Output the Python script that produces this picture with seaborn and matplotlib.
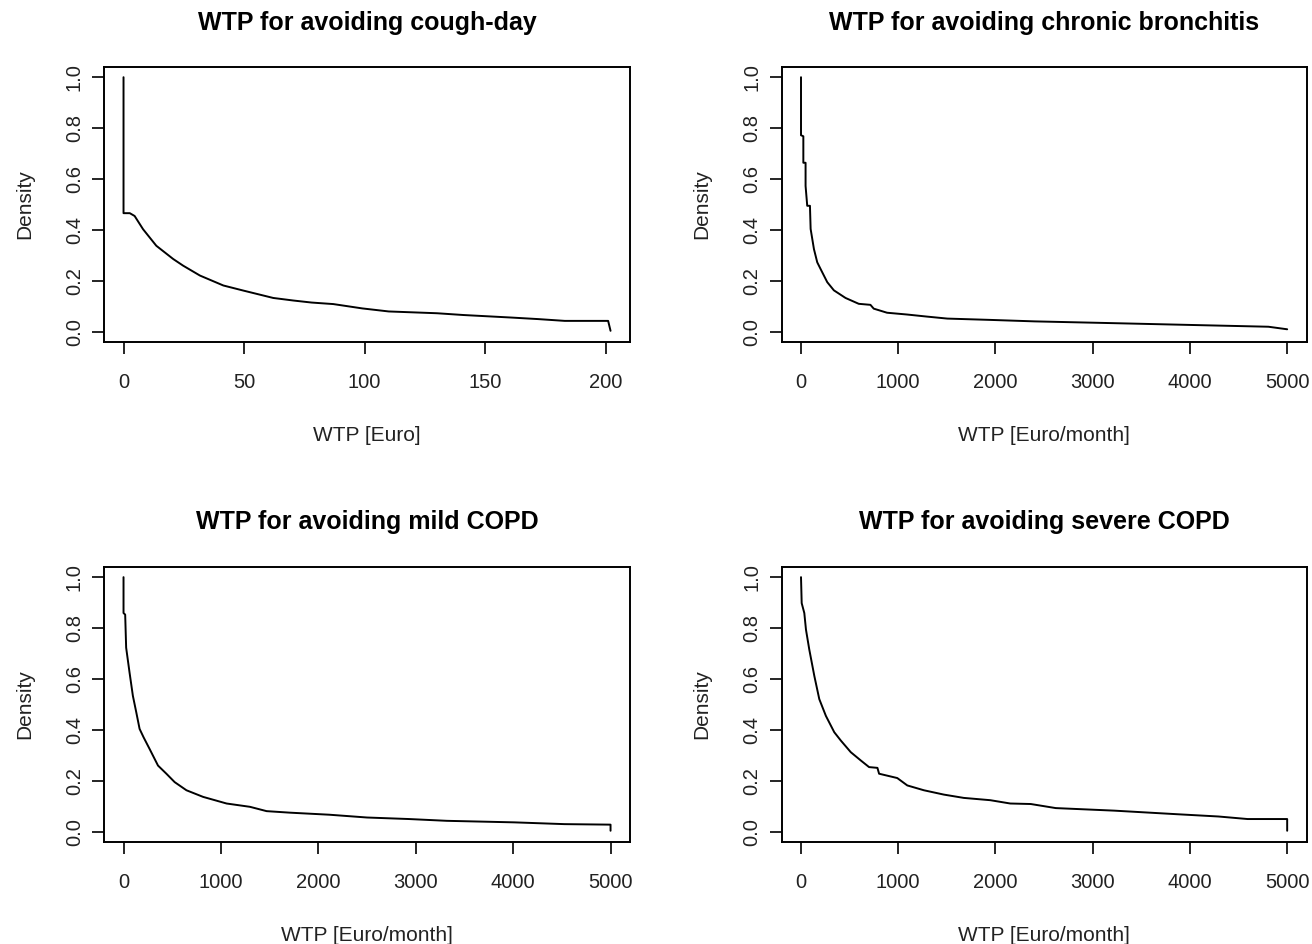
import matplotlib
matplotlib.use("Agg")
import matplotlib.pyplot as plt
import seaborn as sns
import pandas as pd

# Survival-type curves of willingness to pay (share of respondents willing to pay at least x)
cough_wtp = [0, 0, 2.6, 4.6, 8.1, 13.6, 20.6, 24.7, 31.7, 41.4, 49.7, 62.1, 70.4,
             78, 87, 99, 110, 130, 141, 161, 172, 183, 201, 202]
cough_share = [1.0, 0.466, 0.466, 0.455, 0.403, 0.338, 0.286, 0.26, 0.221, 0.182, 0.162,
               0.133, 0.123, 0.115, 0.109, 0.092, 0.08, 0.073, 0.066, 0.056, 0.05,
               0.043, 0.043, 0.004]

bronchitis_wtp = [0, 0, 24, 24, 47, 47, 64, 92, 99, 133, 167, 201, 270, 338, 458, 594,
                  714, 748, 885, 1090, 1291, 1505, 1934, 2406, 3220, 4121, 4807, 5000]
bronchitis_share = [1.0, 0.772, 0.768, 0.664, 0.664, 0.573, 0.495, 0.495, 0.404, 0.325,
                    0.273, 0.247, 0.195, 0.163, 0.133, 0.11, 0.106, 0.091, 0.075, 0.068,
                    0.06, 0.052, 0.047, 0.041, 0.034, 0.026, 0.02, 0.01]

mild_wtp = [0, 0, 17, 27, 62, 96, 131, 165, 206, 268, 354, 440, 525, 646, 817, 1058,
            1298, 1469, 1710, 2112, 2500, 2931, 3319, 4009, 4526, 5000, 5000]
mild_share = [1.0, 0.859, 0.853, 0.723, 0.625, 0.534, 0.469, 0.404, 0.371, 0.325, 0.26,
              0.228, 0.195, 0.163, 0.137, 0.111, 0.098, 0.081, 0.075, 0.067, 0.056,
              0.05, 0.043, 0.037, 0.03, 0.028, 0.004]

severe_wtp = [0, 7, 34, 51, 85, 137, 188, 256, 342, 410, 512, 615, 700, 786, 803, 990,
              1093, 1264, 1469, 1674, 1947, 2152, 2363, 2620, 3220, 3864, 4293, 4593,
              5000, 5000]
severe_share = [1.0, 0.898, 0.859, 0.794, 0.716, 0.612, 0.521, 0.455, 0.391, 0.358,
                0.3125, 0.28, 0.254, 0.251, 0.228, 0.211, 0.182, 0.163, 0.146, 0.133,
                0.124, 0.111, 0.109, 0.093, 0.083, 0.069, 0.06, 0.05, 0.05, 0.004]

titles = ["WTP for avoiding cough-day", "WTP for avoiding chronic bronchitis",
          "WTP for avoiding mild COPD", "WTP for avoiding severe COPD"]
xlabels = ["WTP [Euro]", "WTP [Euro/month]", "WTP [Euro/month]", "WTP [Euro/month]"]
ylabel = "Density"
small_ticks = [0, 50, 100, 150, 200]
large_ticks = [0, 1000, 2000, 3000, 4000, 5000]
y_ticks = [0.0, 0.2, 0.4, 0.6, 0.8, 1.0]

sns.set_theme(style="ticks")
plt.rcParams["font.family"] = ["Liberation Sans", "DejaVu Sans"]
plt.rcParams["axes.linewidth"] = 1.4

fig = plt.figure(figsize=(13.12, 9.44), dpi=100)
fig.patch.set_facecolor("white")

positions = [
    [0.0793, 0.6377, 0.4009, 0.2913],
    [0.5957, 0.6377, 0.4002, 0.2913],
    [0.0793, 0.1081, 0.4009, 0.2913],
    [0.5957, 0.1081, 0.4002, 0.2913],
]
series = [
    (cough_wtp, cough_share, small_ticks),
    (bronchitis_wtp, bronchitis_share, large_ticks),
    (mild_wtp, mild_share, large_ticks),
    (severe_wtp, severe_share, large_ticks),
]

for pos, (xs, ys, xt), title, xl in zip(positions, series, titles, xlabels):
    ax = fig.add_axes(pos)
    df = pd.DataFrame({"wtp": xs, "share": ys})
    sns.lineplot(data=df, x="wtp", y="share", ax=ax, estimator=None, sort=False,
                 color="black", linewidth=1.4, legend=False)
    xmax = xt[-1] if xt[-1] > max(xs) else max(xs)
    span = max(xs) - min(xs)
    ax.set_xlim(min(xs) - 0.04 * span, max(xs) + 0.04 * span)
    ax.set_ylim(-0.04, 1.04)
    ax.set_xticks(xt)
    ax.set_xticklabels([str(v) for v in xt])
    ax.set_yticks(y_ticks)
    ax.set_yticklabels([f"{v:.1f}" for v in y_ticks])
    ax.tick_params(axis="both", direction="out", length=8.6, width=1.2,
                   color="black", labelsize=14.5, labelcolor="#222222")
    ax.tick_params(axis="x", pad=14)
    ax.tick_params(axis="y", labelrotation=90, pad=6)
    for lab in ax.get_yticklabels():
        lab.set_verticalalignment("center")
    for sp in ax.spines.values():
        sp.set_visible(True)
        sp.set_color("black")
        sp.set_linewidth(1.4)
    ax.set_title(title, fontsize=18, fontweight="bold", pad=27, color="black")
    ax.set_xlabel(xl, fontsize=15, labelpad=24, color="#222222")
    ax.set_ylabel(ylabel, fontsize=15, labelpad=22, color="#222222")

fig.savefig("out.png", dpi=100, facecolor="white")
